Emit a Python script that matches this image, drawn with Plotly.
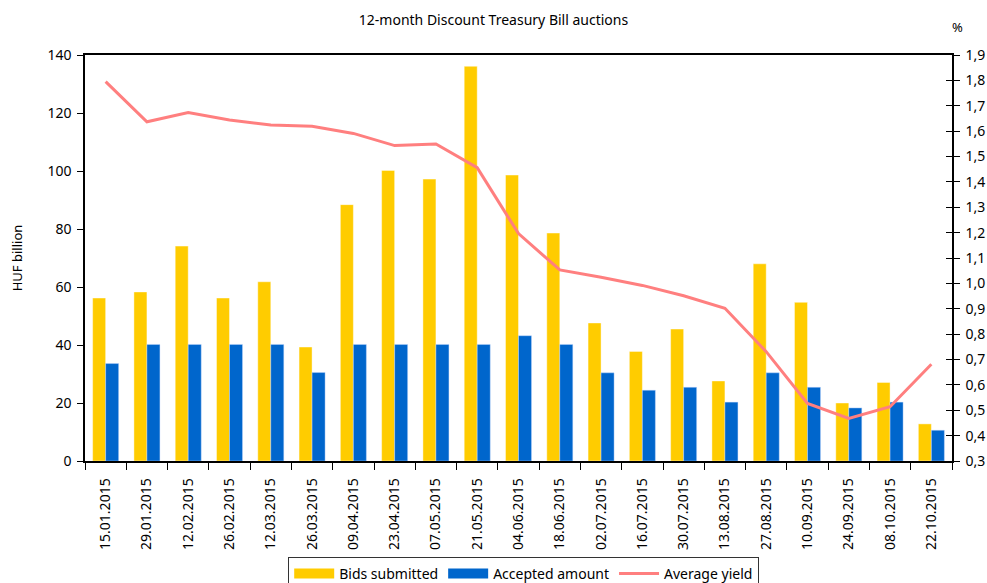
import plotly.graph_objects as go

dates = ["15.01.2015", "29.01.2015", "12.02.2015", "26.02.2015", "12.03.2015", "26.03.2015",
         "09.04.2015", "23.04.2015", "07.05.2015", "21.05.2015", "04.06.2015", "18.06.2015",
         "02.07.2015", "16.07.2015", "30.07.2015", "13.08.2015", "27.08.2015", "10.09.2015",
         "24.09.2015", "08.10.2015", "22.10.2015"]
bids = [56.2, 58.3, 74.1, 56.2, 61.8, 39.3, 88.4, 100.2, 97.2, 136.1, 98.6, 78.6,
        47.6, 37.8, 45.5, 27.6, 68.0, 54.7, 20.0, 27.1, 12.8]
accepted = [33.6, 40.2, 40.2, 40.2, 40.2, 30.5, 40.2, 40.2, 40.2, 40.2, 43.2, 40.2,
            30.4, 24.4, 25.4, 20.3, 30.4, 25.4, 18.3, 20.3, 10.6]
yields = [1.795, 1.637, 1.673, 1.644, 1.624, 1.619, 1.591, 1.543, 1.549, 1.456, 1.196, 1.053,
          1.024, 0.992, 0.951, 0.902, 0.731, 0.527, 0.468, 0.514, 0.681]

left_ticks = [0, 20, 40, 60, 80, 100, 120, 140]
right_ticks = [round(0.3 + 0.1 * i, 1) for i in range(17)]
right_labels = [f"{v:.1f}".replace(".", ",") for v in right_ticks]

font = "Noto Sans"
YELLOW = "#FFCC00"
BLUE = "#0066CC"
PINK = "#FF7F7F"

fig = go.Figure()
fig.add_trace(go.Bar(x=dates, y=bids, name="Bids submitted", showlegend=False,
                     marker=dict(color=YELLOW, line=dict(color="rgba(255,255,255,0.7)", width=0.6))))
fig.add_trace(go.Bar(x=dates, y=accepted, name="Accepted amount", showlegend=False,
                     marker=dict(color=BLUE, line=dict(color="rgba(200,220,255,0.7)", width=0.6))))
fig.add_trace(go.Scatter(x=dates, y=yields, name="Average yield", mode="lines", showlegend=False,
                         line=dict(color=PINK, width=3), yaxis="y2"))
# invisible helper trace to anchor the inside-tick axis
fig.add_trace(go.Scatter(x=dates, y=yields, yaxis="y3", mode="lines",
                         line=dict(width=0), showlegend=False, hoverinfo="skip", opacity=0))
# legend entries (wide rectangles for bars, line for yield)
fig.add_trace(go.Scatter(x=[dates[0]], y=[None], mode="lines", name="Bids submitted",
                         line=dict(color=YELLOW, width=11)))
fig.add_trace(go.Scatter(x=[dates[0]], y=[None], mode="lines", name="Accepted amount",
                         line=dict(color=BLUE, width=11)))
fig.add_trace(go.Scatter(x=[dates[0]], y=[None], mode="lines", name="Average yield",
                         line=dict(color=PINK, width=3)))

fig.update_layout(
    width=987, height=583,
    margin=dict(l=85, r=35, t=55, b=122),
    paper_bgcolor="white", plot_bgcolor="white",
    font=dict(family=font, size=13, color="black"),
    title=dict(text="12-month Discount Treasury Bill auctions", x=0.5, xanchor="center",
               y=1 - 20 / 583, yanchor="middle", font=dict(size=14)),
    barmode="group", bargap=0.37, bargroupgap=0,
    showlegend=True,
    legend=dict(orientation="h", x=0.506, xanchor="center", yref="container",
                y=1 - 557 / 583, yanchor="top",
                bordercolor="#333333", borderwidth=1, font=dict(size=14),
                traceorder="normal", itemwidth=40, tracegroupgap=0),
    xaxis=dict(type="category", showline=True, linecolor="black", linewidth=1.5, mirror=True,
               ticks="outside", ticklen=7, tickcolor="black", tickson="boundaries",
               tickangle=-90, showgrid=False, tickfont=dict(size=14), ticklabelstandoff=10,
               automargin=False),
    yaxis=dict(range=[0, 140], tickvals=left_ticks, showline=True, linecolor="black", linewidth=1.5,
               ticks="outside", ticklen=6, tickcolor="black", showgrid=False, zeroline=False,
               tickfont=dict(size=14), automargin=False, ticklabelstandoff=3,
               title=dict(text="HUF billion", font=dict(size=13), standoff=22)),
    yaxis2=dict(range=[0.3, 1.9], tickvals=right_ticks, ticktext=right_labels, overlaying="y",
                side="right", showline=True, linecolor="black", linewidth=1.5, ticks="outside",
                ticklen=6, tickcolor="black", showgrid=False, zeroline=False,
                tickfont=dict(size=14), ticklabelstandoff=3, automargin=False),
    yaxis3=dict(range=[0.3, 1.9], tickvals=right_ticks, overlaying="y", side="right", anchor="x",
                showline=False, ticks="inside", ticklen=6, tickcolor="black",
                showticklabels=False, showgrid=False, zeroline=False),
)

fig.add_annotation(text="%", xref="paper", yref="paper", x=(957 - 85) / 867, y=1 + (55 - 27) / 406,
                   showarrow=False, font=dict(size=13), xanchor="center", yanchor="middle")

fig.write_html("out.html")
